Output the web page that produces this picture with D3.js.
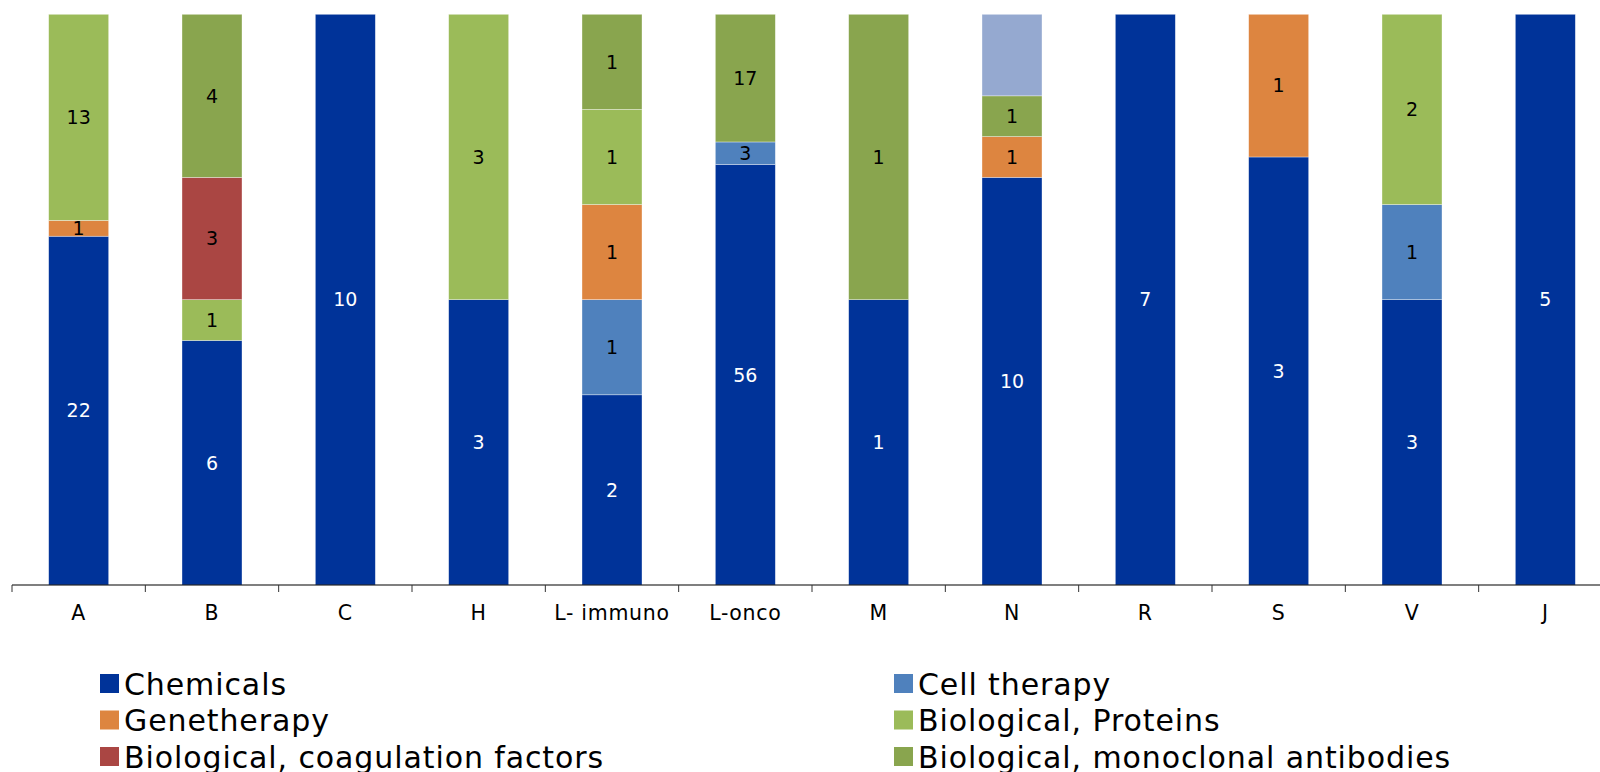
<!DOCTYPE html>
<html><head><meta charset="utf-8">
<script src="https://cdn.jsdelivr.net/npm/d3@7"></script>
<style>body{margin:0;background:#fff}svg{display:block}</style>
</head><body>
<svg id="c" width="1600" height="772"></svg>
<script>
const categories = ["A","B","C","H","L- immuno","L-onco","M","N","R","S","V","J"];
const seriesNames = ["Chemicals","Cell therapy","Genetherapy","Biological, Proteins","Biological, coagulation factors","Biological, monoclonal antibodies","Other"];
const chemicals   = [22,6,10,3,2,56,1,10,7,3,3,5];
const cellTherapy = [0,0,0,0,1,3,0,0,0,0,1,0];
const geneTherapy = [1,0,0,0,1,0,0,1,0,1,0,0];
const proteins    = [13,1,0,3,1,0,0,0,0,0,2,0];
const coagulation = [0,3,0,0,0,0,0,0,0,0,0,0];
const monoclonal  = [0,4,0,0,1,17,1,1,0,0,0,0];
const other       = [0,0,0,0,0,0,0,2,0,0,0,0];
const colors = ["#003399","#4F81BD","#DD8540","#9BBB59","#AA4643","#89A54E","#95A9D0"];
const labelColors = ["#fff","#000","#000","#000","#000","#000",null];

const seriesValues = [chemicals,cellTherapy,geneTherapy,proteins,coagulation,monoclonal,other];
const keys = seriesNames;
const rows = categories.map((c,i)=>{
  const total = d3.sum(seriesValues, s=>s[i]);
  const r = {cat:c};
  keys.forEach((k,j)=>{ r[k] = seriesValues[j][i]/total; r["_"+k]=seriesValues[j][i]; });
  return r;
});
const stack = d3.stack().keys(keys)(rows);

const svg = d3.select("#c");
const x = d3.scaleBand().domain(categories).range([12,1612]).paddingInner(0.55).paddingOuter(0.275);
const y = d3.scaleLinear().domain([0,1]).range([585,14.3]);

const g = svg.append("g");
stack.forEach((layer,j)=>{
  g.selectAll(null).data(layer).enter().append("rect")
    .attr("x", d=>x(d.data.cat))
    .attr("width", x.bandwidth())
    .attr("y", d=>y(d[1]))
    .attr("height", d=>y(d[0])-y(d[1]))
    .attr("fill", colors[j])
    .attr("stroke", d=> (d[1]-d[0])>0 ? "rgba(255,255,255,0.5)" : "none")
    .attr("stroke-width", 0.7);
  if (labelColors[j]) {
    g.selectAll(null).data(layer.filter(d=>d.data["_"+keys[j]]>0)).enter().append("text")
      .attr("x", d=>x(d.data.cat)+x.bandwidth()/2)
      .attr("y", d=>(y(d[0])+y(d[1]))/2)
      .attr("dy","0.36em")
      .attr("text-anchor","middle")
      .attr("font-family","'DejaVu Sans', Verdana, sans-serif")
      .attr("font-size", 19)
      .attr("fill", labelColors[j])
      .text(d=>d.data["_"+keys[j]]);
  }
});

// x axis with boundary ticks
const ax = svg.append("g");
ax.append("line").attr("x1",12).attr("x2",1612).attr("y1",585).attr("y2",585).attr("stroke","#000").attr("stroke-width",1.2);
const step = x.step();
d3.range(categories.length+1).forEach(i=>{
  const xx = 12 + i*step;
  ax.append("line").attr("x1",xx).attr("x2",xx).attr("y1",585).attr("y2",592).attr("stroke","#333").attr("stroke-width",1);
});
ax.selectAll(null).data(categories).enter().append("text")
  .attr("x", d=>x(d)+x.bandwidth()/2)
  .attr("y", 620)
  .attr("text-anchor","middle")
  .attr("font-family","'DejaVu Sans', Verdana, sans-serif")
  .attr("font-size", 20.5)
  .attr("letter-spacing", 0.7)
  .attr("fill","#000")
  .text(d=>d);

// legend
const leg = svg.append("g");
const legPos = [[100,684],[894,684],[100,720.5],[894,720.5],[100,757],[894,757],[100,793.5]];
seriesNames.forEach((name,j)=>{
  const [lx,ly] = legPos[j];
  leg.append("rect").attr("x",lx).attr("y",ly-10).attr("width",19).attr("height",19).attr("fill",colors[j]);
  leg.append("text").attr("x",lx+24).attr("y",ly).attr("dy","0.36em")
    .attr("font-family","'DejaVu Sans', Verdana, sans-serif")
    .attr("font-size",30).attr("letter-spacing",0.9).attr("fill","#000").text(name);
});
</script>
</body></html>
